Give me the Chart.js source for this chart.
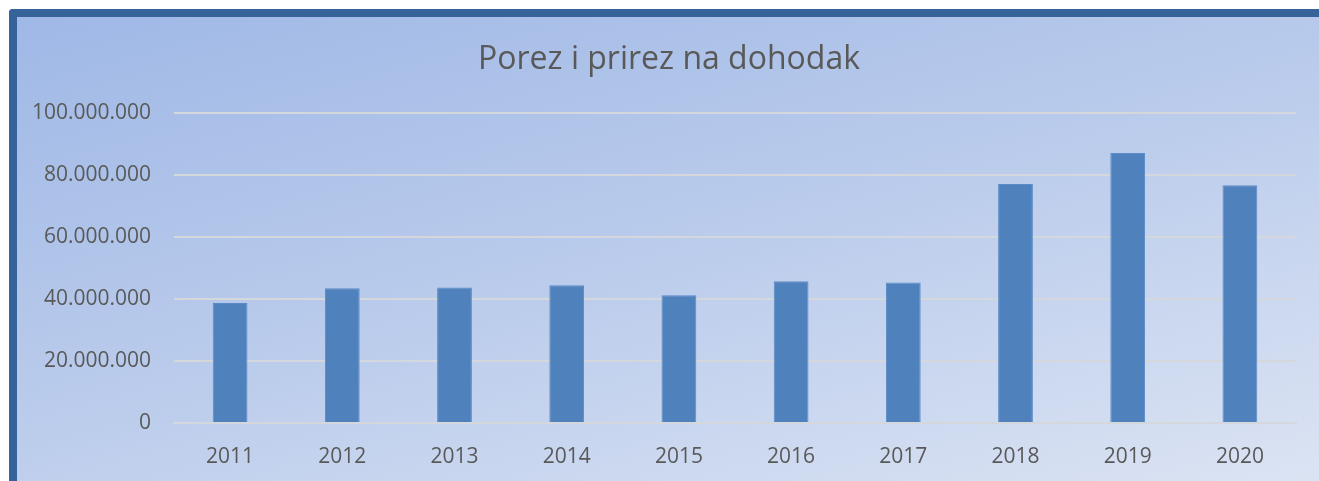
<!DOCTYPE html>
<html>
<head>
<meta charset="utf-8">
<script src="https://cdn.jsdelivr.net/npm/chart.js@4"></script>
<style>
  html, body { margin: 0; padding: 0; background: #fff; overflow: hidden; }
  #frame {
    position: absolute; left: 9px; top: 9px; width: 1330px; height: 500px;
    border-top: 8px solid #36649a; border-left: 8px solid #36649a;
    border-top-left-radius: 4px;
    background: linear-gradient(165deg, #9fb8e6 0%, #bccdec 50%, #dfe6f4 100%);
  }
  #c { position: absolute; left: 0; top: 0; }
</style>
</head>
<body>
<div id="frame"></div>
<canvas id="c" width="1319" height="481"></canvas>
<script>
const years = ['2011', '2012', '2013', '2014', '2015', '2016', '2017', '2018', '2019', '2020'];
const tax = [38800000, 43500000, 43800000, 44500000, 41300000, 45800000, 45400000, 77200000, 87200000, 76800000];
const title = 'Porez i prirez na dohodak';

const grey = '#595959';
const font = 'Open Sans';

// the title sits centred on the frame, not on the plot box
const shiftTitle = {
  id: 'shiftTitle',
  afterLayout(chart) {
    if (chart.titleBlock) {
      chart.titleBlock.left += 21;
      chart.titleBlock.right += 21;
    }
  }
};

new Chart(document.getElementById('c'), {
  type: 'bar',
  data: {
    labels: years,
    datasets: [{ data: tax, backgroundColor: '#4f81bd', borderColor: '#5a8bc6', borderWidth: 1, barPercentage: 0.31, categoryPercentage: 1 }]
  },
  options: {
    responsive: false,
    animation: false,
    layout: { padding: { left: 0, right: 23, top: 0, bottom: 0 } },
    plugins: {
      legend: { display: false },
      tooltip: { enabled: false },
      title: {
        display: true, text: title, color: grey,
        font: { family: font, size: 32, weight: 'normal' },
        padding: { top: 41, bottom: 34 }
      }
    },
    scales: {
      x: {
        grid: { display: false, drawTicks: false },
        border: { display: true, color: '#d4d7dc', width: 2 },
        ticks: { color: grey, font: { family: font, size: 21 }, padding: 21 },
        afterFit: s => { s.height = 58; }
      },
      y: {
        min: 0, max: 100000000,
        grid: { color: '#d4d7dc', lineWidth: 2, drawTicks: false },
        border: { display: false },
        ticks: {
          stepSize: 20000000, color: grey, padding: 23,
          font: { family: font, size: 21 },
          callback: v => v.toString().replace(/\B(?=(\d{3})+(?!\d))/g, '.')
        },
        afterFit: s => { s.width = 174; }
      }
    }
  },
  plugins: [shiftTitle]
});
</script>
</body>
</html>
